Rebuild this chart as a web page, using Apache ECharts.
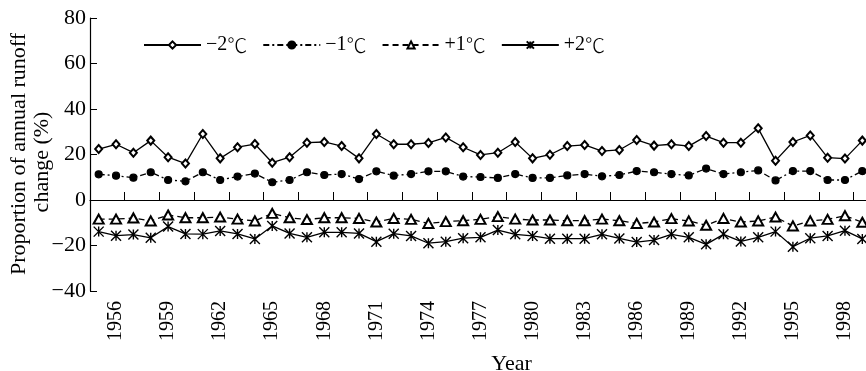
<!DOCTYPE html>
<html>
<head>
<meta charset="utf-8">
<script src="https://cdn.jsdelivr.net/npm/echarts@6/dist/echarts.min.js"></script>
<style>
  html, body { margin: 0; padding: 0; background: #fff; }
  #chart { width: 866px; height: 371px; }
</style>
</head>
<body>
<div id="chart"></div>
<script>
// Years 1955–1999
const years = [];
for (let y = 1955; y <= 1999; y++) years.push(String(y));

const seriesNames = ['\u22122\u2103', '\u22121\u2103', '+1\u2103', '+2\u2103'];

const minus2 = [22.4, 24.5, 20.8, 26.1, 18.8, 16.0, 29.0, 18.3, 23.2, 24.6,
  16.4, 18.8, 25.2, 25.5, 23.7, 18.3, 29.0, 24.5, 24.5, 25.1,
  27.5, 23.2, 19.8, 20.8, 25.5, 18.3, 19.9, 23.7, 24.2, 21.5,
  22.0, 26.4, 23.9, 24.5, 23.7, 28.1, 25.2, 25.2, 31.5, 17.3,
  25.5, 28.4, 18.6, 18.2, 26.1];

const minus1 = [11.3, 10.7, 9.8, 12.2, 8.8, 8.2, 12.2, 8.8, 10.3, 11.6,
  7.8, 8.8, 12.2, 11.0, 11.4, 9.2, 12.6, 10.7, 11.4, 12.6,
  12.6, 10.3, 10.1, 9.7, 11.4, 9.7, 9.7, 10.8, 11.4, 10.4,
  11.0, 12.7, 12.2, 11.4, 10.8, 13.8, 11.4, 12.2, 13.0, 8.6,
  12.7, 12.7, 8.8, 8.8, 12.7];

const plus1 = [-8.4, -8.4, -7.9, -9.2, -6.6, -7.8, -7.8, -7.5, -8.4, -9.2,
  -5.9, -7.8, -8.6, -7.8, -7.8, -8.1, -9.7, -8.1, -8.5, -10.3,
  -9.5, -9.1, -8.5, -7.3, -8.4, -8.8, -8.8, -9.1, -9.1, -8.4,
  -9.1, -10.3, -9.7, -8.2, -9.2, -11.1, -8.1, -9.7, -9.2, -7.5,
  -11.4, -9.2, -8.5, -6.9, -9.8];

const plus2 = [-13.9, -15.7, -15.2, -16.6, -11.7, -14.9, -15.0, -13.6, -14.9, -17.1,
  -11.4, -14.7, -16.4, -14.2, -14.2, -14.7, -18.3, -14.8, -15.8, -19.0,
  -18.3, -16.8, -16.4, -13.2, -15.1, -15.8, -17.0, -17.0, -17.0, -15.1,
  -16.9, -18.5, -17.6, -15.1, -16.4, -19.5, -15.1, -18.2, -16.4, -13.9,
  -20.5, -16.8, -15.8, -13.5, -17.1];

const yMin = -40, yMax = 80, yStep = 20;

const FONT = "'Liberation Serif', 'Times New Roman', 'DejaVu Serif', serif";
const CJK = "'Noto Sans CJK SC', 'Noto Sans CJK JP', sans-serif";
const INK = '#000';

const chart = echarts.init(document.getElementById('chart'), null, { renderer: 'canvas' });

const baseLine = (name, data, symbol, size, lineType, itemStyle) => ({
  name,
  type: 'line',
  data,
  symbol,
  symbolSize: size,
  showAllSymbol: true,
  color: INK,
  lineStyle: { color: INK, width: 1.3, type: lineType },
  itemStyle: Object.assign({ color: INK, borderColor: INK, borderWidth: 1.2 }, itemStyle || {}),
  emphasis: { disabled: true },
  animation: false
});

// six-armed star marker: vertical stroke plus an X
const starPath = 'path://M5,0 L5,10 M0,0 L10,10 M0,10 L10,0';

chart.setOption({
  backgroundColor: '#fff',
  animation: false,
  textStyle: { fontFamily: FONT, color: INK },
  grid: { left: 90, top: 18, width: 781, height: 273, containLabel: false, outerBoundsMode: 'none' },
  legend: {
    left: 138,
    top: 30,
    itemWidth: 57,
    itemHeight: 9,
    itemGap: 15,
    formatter: (name) => name.replace('\u2103', '{u|\u2103}'),
    textStyle: {
      fontFamily: FONT, fontSize: 20, color: INK,
      rich: { u: { fontFamily: CJK, fontSize: 20, fontWeight: 300, color: INK } }
    },
    data: seriesNames
  },
  xAxis: {
    type: 'category',
    data: years,
    boundaryGap: true,
    axisLine: { lineStyle: { color: INK, width: 1.2 } },
    axisTick: { show: true, inside: true, length: 8, interval: 1, lineStyle: { color: INK, width: 1 } },
    axisLabel: {
      interval: (idx) => idx % 3 === 1,
      rotate: 90,
      margin: 10,
      padding: [9, 0, 0, 0],
      fontFamily: FONT,
      fontSize: 20,
      color: INK
    },
    splitLine: { show: false },
    name: 'Year',
    nameLocation: 'middle',
    nameGap: 62,
    nameTextStyle: { fontFamily: FONT, fontSize: 22, color: INK, padding: [0, 0, 0, 62] }
  },
  yAxis: {
    type: 'value',
    min: yMin,
    max: yMax,
    interval: yStep,
    axisLine: { show: true, lineStyle: { color: INK, width: 1.2 } },
    axisTick: { show: true, inside: true, length: 7, lineStyle: { color: INK, width: 1 } },
    axisLabel: {
      margin: 4,
      fontFamily: FONT,
      fontSize: 22,
      color: INK,
      formatter: (v) => String(v).replace('-', '\u2212')
    },
    splitLine: { show: false }
  },
  graphic: [
    {
      type: 'text',
      x: 19, y: 154,
      rotation: Math.PI / 2,
      style: {
        text: 'Proportion of annual runoff',
        font: "22px " + FONT,
        fill: INK,
        textAlign: 'center',
        textVerticalAlign: 'middle'
      }
    },
    {
      type: 'text',
      x: 42, y: 162,
      rotation: Math.PI / 2,
      style: {
        text: 'change (%)',
        font: "22px " + FONT,
        fill: INK,
        textAlign: 'center',
        textVerticalAlign: 'middle'
      }
    }
  ],
  series: [
    baseLine(seriesNames[0], minus2, 'emptyDiamond', [7, 8], 'solid'),
    baseLine(seriesNames[1], minus1, 'circle', 7, [6, 3, 2, 3]),
    baseLine(seriesNames[2], plus1, 'emptyTriangle', [10, 9], [6, 4]),
    baseLine(seriesNames[3], plus2, starPath, 10, 'solid', { borderWidth: 1.4 })
  ]
});
</script>
</body>
</html>
